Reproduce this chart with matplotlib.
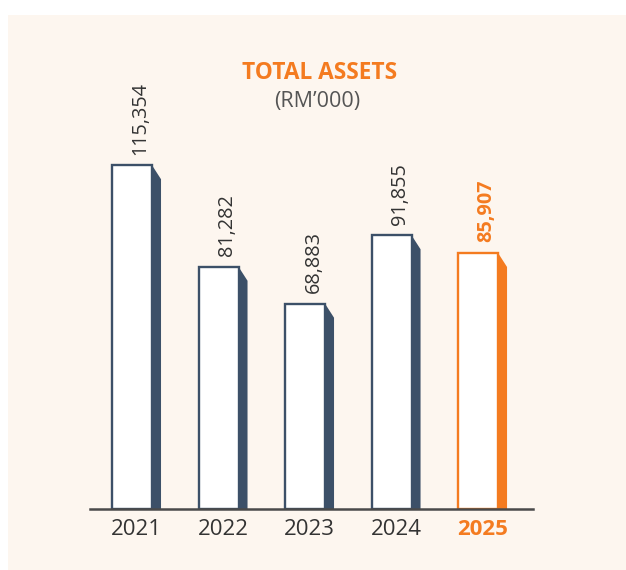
import matplotlib
matplotlib.use("Agg")
import matplotlib.pyplot as plt
from matplotlib.patches import Polygon, Rectangle

years = ["2021", "2022", "2023", "2024", "2025"]
assets = [115354, 81282, 68883, 91855, 85907]
value_labels = ["115,354", "81,282", "68,883", "91,855", "85,907"]

NAVY = "#3c5068"
ORANGE = "#f47b20"
CREAM = "#fdf6ef"
TEXT = "#333333"

plt.rcParams["font.family"] = ["Open Sans", "DejaVu Sans"]

W, H = 626, 570
fig = plt.figure(figsize=(W / 100, H / 100), dpi=100)
fig.patch.set_facecolor("white")
fig.add_artist(Rectangle((8 / W, 0), 1 - 8 / W, (H - 15) / H,
                         transform=fig.transFigure, facecolor=CREAM,
                         edgecolor="none", zorder=-10))

# axes in pixel layout: baseline at y=509 from top, x from 90 to 533
ax = fig.add_axes([90 / W, 61 / H, 443 / W, 494 / H])
ax.set_facecolor("none")
ax.set_xlim(-0.486, 4.635)
ax.set_ylim(0, 165770)

front_w = 0.462
side_w = 0.104
drop = 4700

for i, (yr, v, lab) in enumerate(zip(years, assets, value_labels)):
    last = i == len(years) - 1
    col = ORANGE if last else NAVY
    ax.bar(i, v, width=front_w, color="white", edgecolor=col,
           linewidth=1.7, zorder=3)
    x0 = i + front_w / 2
    x1 = x0 + side_w
    ax.add_patch(Polygon([(x0, 0), (x0, v), (x1, v - drop), (x1, 0)],
                         closed=True, facecolor=col, edgecolor="none",
                         zorder=2))
    ax.text(i + 0.098, v + 3600, lab, rotation=90, ha="center", va="bottom",
            fontsize=14.3, color=ORANGE if last else TEXT,
            fontweight="bold" if last else "normal")

ax.set_xticks([i + 0.052 for i in range(len(years))])
ax.set_xticklabels(years, fontsize=16, color=TEXT)
ax.get_xticklabels()[-1].set_color(ORANGE)
ax.get_xticklabels()[-1].set_fontweight("bold")
ax.tick_params(axis="x", length=0, pad=7)
ax.set_yticks([])
for s in ["top", "right", "left"]:
    ax.spines[s].set_visible(False)
ax.spines["bottom"].set_color("#4a4a4a")
ax.spines["bottom"].set_linewidth(1.8)
ax.spines["bottom"].set_zorder(5)

fig.text(320 / W, 1 - 73 / H, "TOTAL ASSETS", ha="center", va="center",
         fontsize=16.3, fontweight="bold", color=ORANGE)
fig.text(317 / W, 1 - 102 / H, "(RM\u2019000)", ha="center", va="center",
         fontsize=15.5, color="#555555")

fig.savefig("out.png", dpi=100)
